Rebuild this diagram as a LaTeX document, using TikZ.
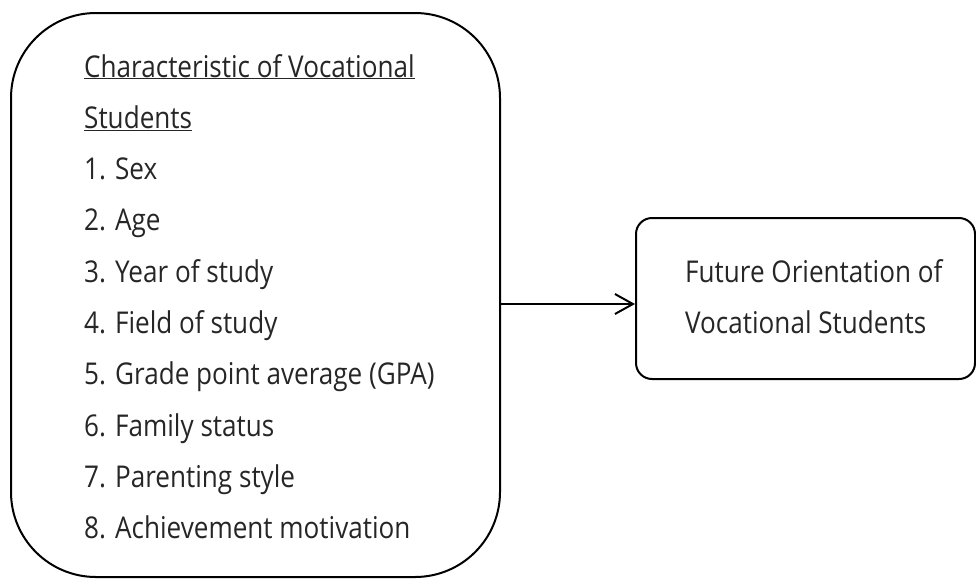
\documentclass[tikz,border=0pt]{standalone}
\usepackage{fontspec}
\setmainfont{Open Sans}[FakeStretch=0.87]
\usetikzlibrary{arrows.meta}
\begin{document}
\begin{tikzpicture}[x=1pt,y=-1pt,
  frame/.style={draw=black,line width=2pt,fill=none,inner sep=0pt},
  txt/.style={inner sep=0pt,anchor=base west,font=\fontsize{30}{36}\selectfont,text=black!85}]
\useasboundingbox (0,0) rectangle (976,579);
% left box: student characteristics
\node[frame,rounded corners=85pt,minimum width=489pt,minimum height=564pt,anchor=north west] (chars) at (10,12) {};
\foreach \t [count=\i] in {{\underline{Characteristic of Vocational}},
  {\underline{Students}},
  1. Sex, 2. Age, 3. Year of study, 4. Field of study,
  5. Grade point average (GPA), 6. Family status,
  7. Parenting style, 8. Achievement motivation}
  \node[txt] (item\i) at (84,{77+51.3*(\i-1)}) {\t};
% right box: outcome
\node[frame,rounded corners=16pt,minimum width=339pt,minimum height=161pt,anchor=north west] (fut) at (635,217) {};
\node[txt] (fut1) at (685,282) {Future Orientation of};
\node[txt] (fut2) at (685,333) {Vocational Students};
% connector
\coordinate (a) at (chars.east |- 0,304);
\draw[line width=2pt,-{Straight Barb[length=18pt,width=20pt]}] (a) -- (fut.west |- a);
\end{tikzpicture}
\end{document}
